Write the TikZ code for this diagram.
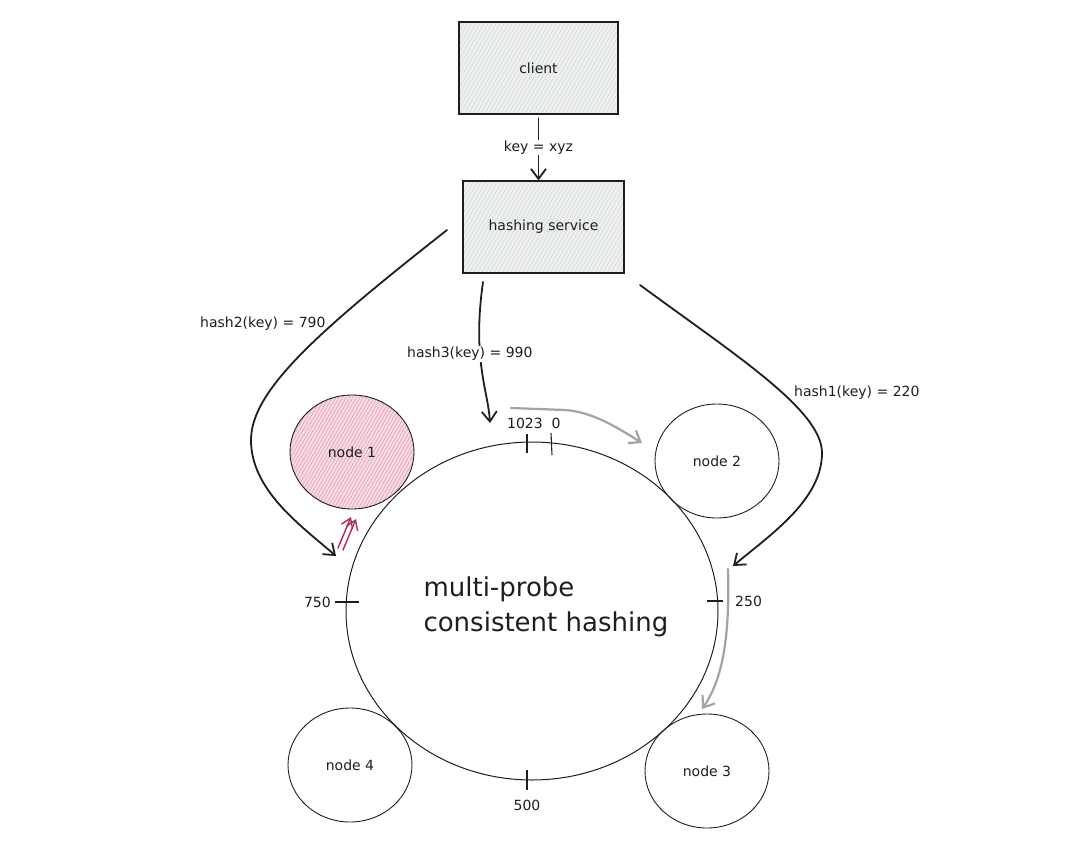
\documentclass[tikz,border=0pt]{standalone}
\usepackage{fontspec}
\setmainfont{DejaVu Sans}
\usetikzlibrary{arrows.meta,shapes.geometric,patterns.meta}
\definecolor{boxgray}{HTML}{EEF0F0}
\definecolor{hatchgray}{HTML}{D0D4D4}
\definecolor{pinkfill}{HTML}{F7D9E3}
\definecolor{pinkhatch}{HTML}{E09AB2}
\definecolor{crimson}{HTML}{B02A5C}
\definecolor{arrowgray}{HTML}{A3A3A3}
\definecolor{ink}{HTML}{1E1E1E}
\begin{document}
\begin{tikzpicture}[x=1pt,y=-1pt,
  lbl/.style={font=\fontsize{14}{16}\selectfont, text=ink, inner sep=1pt},
  box/.style={draw=ink, line width=1.3pt, preaction={fill=boxgray},
    pattern={Lines[angle=60,distance=3.5pt,line width=0.4pt]}, pattern color=hatchgray,
    minimum width=160pt, minimum height=92pt, inner sep=0pt, lbl},
  ringnode/.style={ellipse, draw=ink, line width=0.9pt, minimum width=124pt,
    minimum height=114pt, inner sep=0pt, lbl},
  arr/.style={draw=ink, line width=1.8pt, line cap=round,
    -{Straight Barb[length=10pt,width=15pt,line width=1.8pt]}},
  grayarr/.style={draw=arrowgray, line width=2.2pt, line cap=round,
    -{Straight Barb[length=10pt,width=15pt,line width=2.2pt]}},
  redarr/.style={draw=crimson, line width=1.4pt, line cap=round,
    -{Straight Barb[length=9pt,width=12pt,line width=1.4pt]}},
  tick/.style={draw=ink, line width=1.1pt}
]
\useasboundingbox (0,0) rectangle (1080,841);

% boxes
\node[box, minimum width=159pt] (client) at (538.5,68) {client};
\node[box, minimum width=161pt] (hashsvc) at (543.5,227) {hashing service};

% client -> hashing service
\draw[arr] (client.south) ++(0,4) coordinate (cs) -- (cs |- hashsvc.north)
  node[pos=0.47, fill=white, lbl] (keylbl) {key = xyz};

% ring
\node[ellipse, draw=ink, line width=1pt, minimum width=372pt, minimum height=338pt,
  inner sep=0pt] (ring) at (532,611) {};
\node[anchor=west, align=left, font=\fontsize{26}{35}\selectfont, text=ink] (title)
  at (420,607) {multi-probe\\consistent hashing};

% nodes on the ring
\node[ringnode, preaction={fill=pinkfill},
  pattern={Lines[angle=60,distance=3pt,line width=0.5pt]}, pattern color=pinkhatch]
  (node1) at (352,452) {node 1};
\node[ringnode] (node2) at (717,461) {node 2};
\node[ringnode] (node3) at (707,771) {node 3};
\node[ringnode] (node4) at (350,765) {node 4};

% ticks and labels
\draw[tick] (335,602) -- (359,602);
\node[lbl, anchor=east] (l750) at (332,602) {750};
\draw[tick] (707,601) -- (723,601);
\node[lbl, anchor=west] (l250) at (734,601) {250};
\draw[tick] (527,770) -- (527,790);
\node[lbl] (l500) at (527,805) {500};
\draw[tick] (527,434) -- (527,453);
\draw[tick] (551,433) -- (552,455);
\node[lbl] (l1023) at (525,423) {1023};
\node[lbl] (l0) at (556,423) {0};

% hash2 arrow
\coordinate (h2s) at (447,230);
\coordinate (h2e) at (336,556);
\draw[arr] (h2s) .. controls (320,330) and (251,390) .. (251,440)
  .. controls (251,490) and (300,525) .. (h2e);
\node[lbl, anchor=west] (h2lbl) at (199,324) {hash2(key) = 790};

% hash3 arrow
\coordinate (h3s) at (483,282);
\coordinate (h3e) at (490,423);
\draw[arr] (h3s) .. controls (472,360) and (488,390) .. (h3e);
\node[lbl, fill=white, anchor=west] (h3lbl) at (406,354) {hash3(key) = 990};

% hash1 arrow
\coordinate (h1s) at (640,285);
\coordinate (h1e) at (733,566);
\draw[arr] (h1s) .. controls (735,355) and (822,410) .. (822,453)
  .. controls (822,500) and (770,535) .. (h1e);
\node[lbl, anchor=west] (h1lbl) at (793,393) {hash1(key) = 220};

% gray probe arrows
\coordinate (g1s) at (511,408);
\coordinate (g1e) at (642,443);
\draw[grayarr] (g1s) -- (565,410) .. controls (592,412) and (615,426) .. (g1e);
\coordinate (g2s) at (728,569);
\coordinate (g2e) at (702,709);
\draw[grayarr] (g2s) .. controls (730,640) and (722,680) .. (g2e);

% crimson double arrow into node 1
\coordinate (r1s) at (338,548);
\coordinate (r1e) at (351,517);
\coordinate (r2s) at (343,550);
\coordinate (r2e) at (356,519);
\draw[redarr] (r1s) -- (r1e);
\draw[redarr] (r2s) -- (r2e);
\end{tikzpicture}
\end{document}
